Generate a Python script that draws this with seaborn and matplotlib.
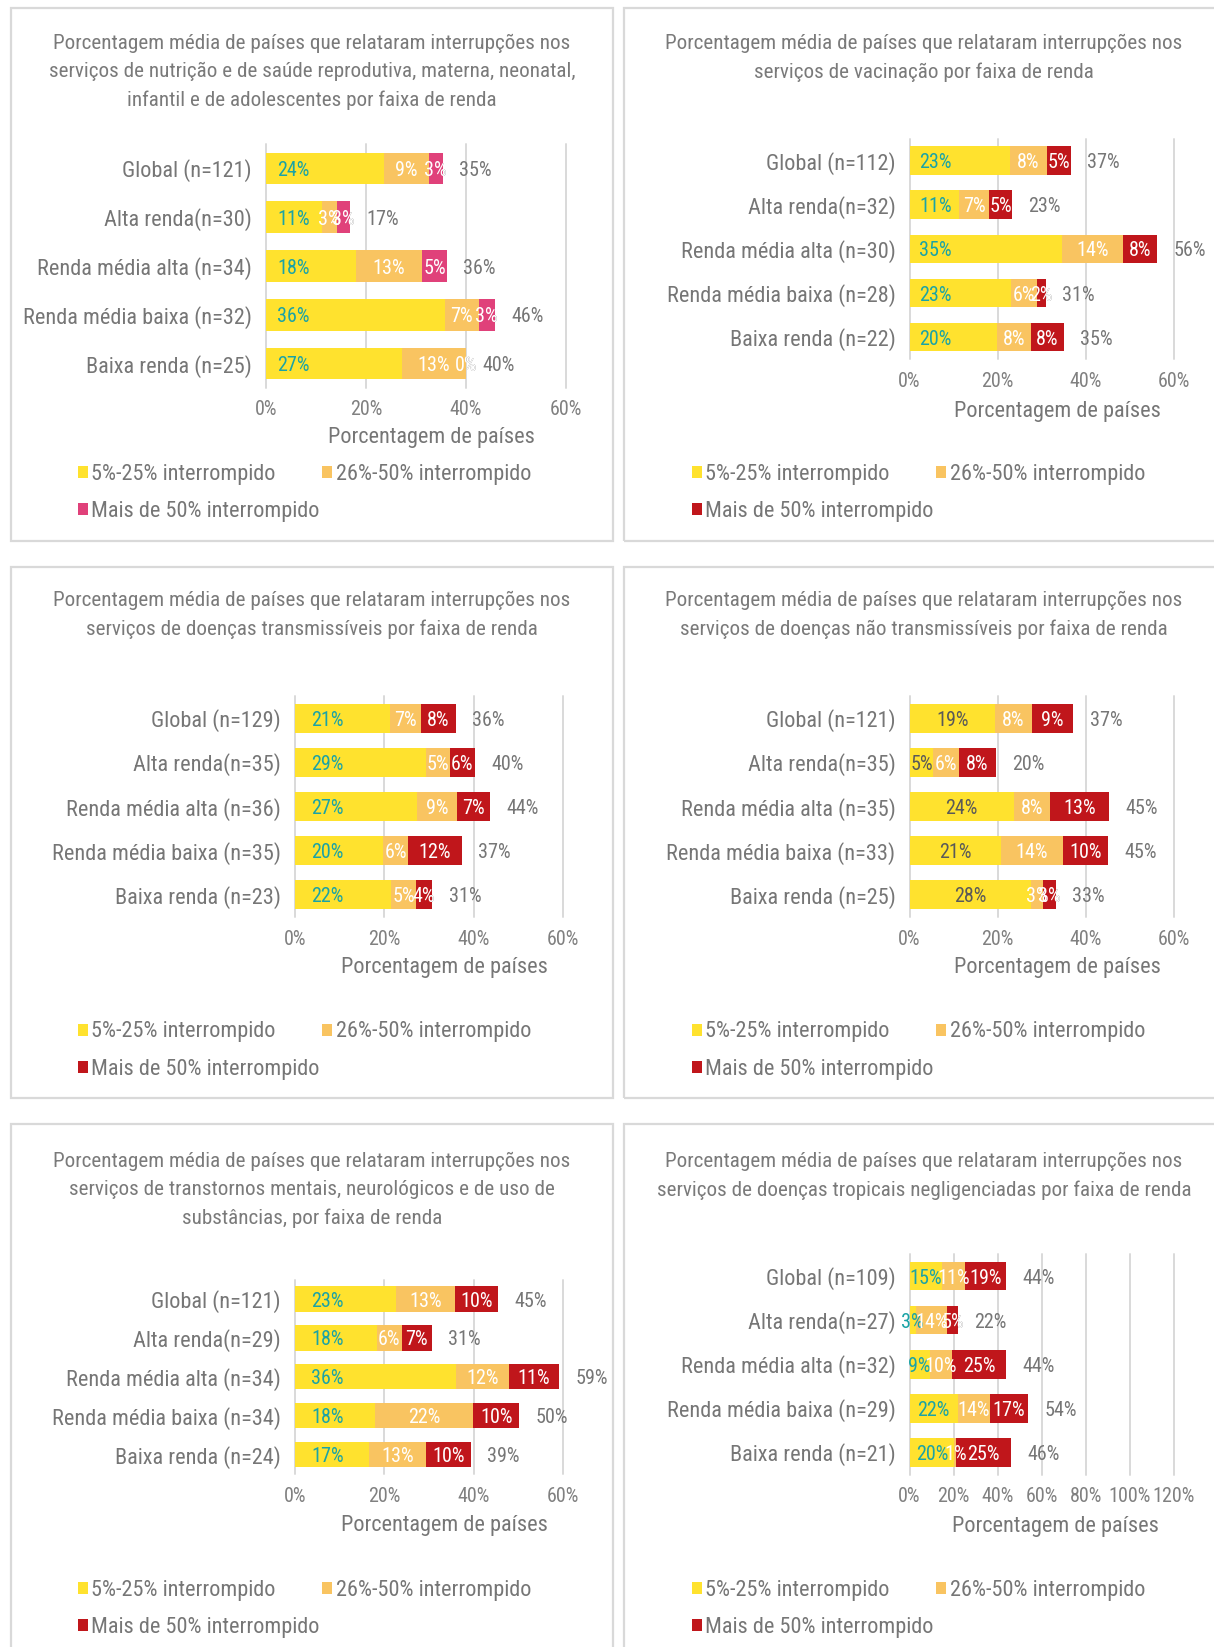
import numpy as np
import pandas as pd
import matplotlib
matplotlib.use("Agg")
import matplotlib.pyplot as plt
from matplotlib import font_manager as fm
from matplotlib.patches import Patch, Rectangle
import seaborn as sns

# ---------------------------------------------------------------- data
legend_labels = ["5%-25% interrompido", "26%-50% interrompido", "Mais de 50% interrompido"]
x_label = "Porcentagem de países"

rmnca_title = ("Porcentagem média de países que relataram interrupções nos\n"
               "serviços de nutrição e de saúde reprodutiva, materna, neonatal,\n"
               "infantil e de adolescentes por faixa de renda")
rmnca_cats = ["Global (n=121)", "Alta renda(n=30)", "Renda média alta (n=34)",
              "Renda média baixa (n=32)", "Baixa renda (n=25)"]
rmnca_low = [23.6, 11.1, 18.0, 35.8, 27.1]
rmnca_mid = [8.9, 3.1, 13.2, 6.7, 12.9]
rmnca_high = [2.9, 2.6, 5.0, 3.2, 0.0]

vac_title = ("Porcentagem média de países que relataram interrupções nos\n"
             "serviços de vacinação por faixa de renda")
vac_cats = ["Global (n=112)", "Alta renda(n=32)", "Renda média alta (n=30)",
            "Renda média baixa (n=28)", "Baixa renda (n=22)"]
vac_low = [22.8, 11.3, 34.6, 23.0, 19.9]
vac_mid = [8.4, 6.8, 13.8, 6.0, 7.6]
vac_high = [5.4, 5.1, 7.7, 1.9, 7.5]

ct_title = ("Porcentagem média de países que relataram interrupções nos\n"
            "serviços de doenças transmissíveis por faixa de renda")
ct_cats = ["Global (n=129)", "Alta renda(n=35)", "Renda média alta (n=36)",
           "Renda média baixa (n=35)", "Baixa renda (n=23)"]
ct_low = [21.3, 29.4, 27.4, 19.8, 21.6]
ct_mid = [7.0, 5.2, 8.9, 5.6, 5.4]
ct_high = [7.7, 5.6, 7.3, 11.9, 3.7]

dnt_title = ("Porcentagem média de países que relataram interrupções nos\n"
             "serviços de doenças não transmissíveis por faixa de renda")
dnt_cats = ["Global (n=121)", "Alta renda(n=35)", "Renda média alta (n=35)",
            "Renda média baixa (n=33)", "Baixa renda (n=25)"]
dnt_low = [19.4, 5.4, 23.6, 20.7, 27.6]
dnt_mid = [8.3, 5.8, 8.3, 14.1, 2.6]
dnt_high = [9.4, 8.4, 13.3, 10.3, 3.0]

mental_title = ("Porcentagem média de países que relataram interrupções nos\n"
                "serviços de transtornos mentais, neurológicos e de uso de\n"
                "substâncias, por faixa de renda")
mental_cats = ["Global (n=121)", "Alta renda(n=29)", "Renda média alta (n=34)",
               "Renda média baixa (n=34)", "Baixa renda (n=24)"]
mental_low = [22.6, 18.3, 36.0, 17.9, 16.6]
mental_mid = [13.2, 5.6, 11.8, 22.0, 12.8]
mental_high = [9.6, 6.7, 11.3, 10.3, 9.9]

ntd_title = ("Porcentagem média de países que relataram interrupções nos\n"
             "serviços de doenças tropicais negligenciadas por faixa de renda")
ntd_cats = ["Global (n=109)", "Alta renda(n=27)", "Renda média alta (n=32)",
            "Renda média baixa (n=29)", "Baixa renda (n=21)"]
ntd_low = [14.6, 2.9, 9.1, 21.9, 20.4]
ntd_mid = [10.7, 14.3, 10.0, 14.4, 0.8]
ntd_high = [18.6, 4.6, 24.8, 17.3, 24.9]

# ---------------------------------------------------------------- style
W, H, DPI = 1214, 1647, 100
sns.set_theme(style="white")


def pick_font(candidates):
    for name in candidates:
        try:
            fm.findfont(fm.FontProperties(family=name), fallback_to_default=False)
            return name
        except ValueError:
            continue
    return "DejaVu Sans"


FONT = pick_font(["Liberation Sans Narrow", "Roboto Condensed",
                  "DejaVu Sans Condensed", "Roboto", "Liberation Sans"])
plt.rcParams["font.family"] = [FONT, "DejaVu Sans"]

GREY = "#767676"
TITLE_GREY = "#7a7a7a"
TICK_GREY = "#808080"
GRID = "#D9D9D9"
YELLOW = "#FFE22E"
ORANGE = "#F9C461"
PINK = "#E0417A"
RED = "#C0161B"
TEAL = "#1AA3A6"
DARK = "#595959"
BAR_W = 0.65
LEG_FS = 16
VAL_FS = 14.5
TICK_FS = 14.5

PX = 72.0 / DPI  # points per pixel

# panel layout in pixels: frame box, axes box, title centre, legend anchor
panels = [
    dict(title=rmnca_title, cats=rmnca_cats, low=rmnca_low, mid=rmnca_mid, high=rmnca_high,
         high_color=PINK, xmax=60, first="base", pad=11.5, first_color=TEAL,
         frame=(10.5, 8.4, 613, 541), axes=(266, 144, 566, 388),
         title_xy=(312, 46), xlab_x=431, xlab_dy=50, tick_dy=22, legend_xy=(78, 464)),
    dict(title=vac_title, cats=vac_cats, low=vac_low, mid=vac_mid, high=vac_high,
         high_color=RED, xmax=60, first="base", pad=9.5, first_color=TEAL,
         frame=(624, 8.4, 1226, 541), axes=(909.5, 138.6, 1174, 359.2),
         title_xy=(924, 46), xlab_x=1057.6, xlab_dy=52, tick_dy=22.8, legend_xy=(692, 464)),
    dict(title=ct_title, cats=ct_cats, low=ct_low, mid=ct_mid, high=ct_high,
         high_color=RED, xmax=60, first="base", pad=16, first_color=TEAL,
         frame=(10.5, 567, 613, 1097.5), axes=(295, 696.3, 563, 916.8),
         title_xy=(312, 603), xlab_x=444, xlab_dy=51, tick_dy=23, legend_xy=(78, 1021.5)),
    dict(title=dnt_title, cats=dnt_cats, low=dnt_low, mid=dnt_mid, high=dnt_high,
         high_color=RED, xmax=60, first="center", pad=0, first_color=DARK,
         frame=(624, 567, 1226, 1097.5), axes=(909.5, 696.3, 1174, 916.8),
         title_xy=(924, 603), xlab_x=1057.6, xlab_dy=51, tick_dy=23, legend_xy=(692, 1021.5)),
    dict(title=mental_title, cats=mental_cats, low=mental_low, mid=mental_mid, high=mental_high,
         high_color=RED, xmax=60, first="base", pad=16, first_color=TEAL,
         frame=(10.5, 1124, 613, 1660), axes=(295, 1279.6, 563, 1474),
         title_xy=(312, 1164), xlab_x=444, xlab_dy=52, tick_dy=22.5, legend_xy=(78, 1580)),
    dict(title=ntd_title, cats=ntd_cats, low=ntd_low, mid=ntd_mid, high=ntd_high,
         high_color=RED, xmax=120, first="center", pad=0, first_color=TEAL,
         frame=(624, 1124, 1226, 1660), axes=(909.5, 1254, 1174, 1474.5),
         title_xy=(924, 1164), xlab_x=1055.5, xlab_dy=52, tick_dy=22.5, legend_xy=(692, 1580)),
]

fig = plt.figure(figsize=(W / DPI, H / DPI), dpi=DPI)
fig.patch.set_facecolor("white")
renderer = fig.canvas.get_renderer()


def fx(px):
    return px / W


def fy(py):
    return 1 - py / H


for p in panels:
    # panel frame
    x0, y0, x1, y1 = p["frame"]
    fig.add_artist(Rectangle((fx(x0), fy(y1)), fx(x1 - x0), (y1 - y0) / H,
                             transform=fig.transFigure, fill=False,
                             edgecolor=GRID, linewidth=1.6, zorder=0))

    # title
    tx, ty = p["title_xy"]
    fig.text(fx(tx), fy(ty - 12), p["title"], ha="center", va="top",
             fontsize=15.2, color=TITLE_GREY, linespacing=1.6)

    ax0, ay0, ax1, ay1 = p["axes"]
    ax = fig.add_axes([fx(ax0), fy(ay1), fx(ax1 - ax0), (ay1 - ay0) / H])

    df = pd.DataFrame({"cat": p["cats"], "low": p["low"], "mid": p["mid"], "high": p["high"]})
    df["upto_mid"] = df["low"] + df["mid"]
    df["total"] = df["upto_mid"] + df["high"]

    # stacked look: draw cumulative bars from the longest to the shortest
    for col, color in [("total", p["high_color"]), ("upto_mid", ORANGE), ("low", YELLOW)]:
        sns.barplot(data=df, x=col, y="cat", orient="h", color=color, saturation=1,
                    width=BAR_W, errorbar=None, linewidth=0, ax=ax)

    ax.set_xlim(0, p["xmax"])
    ticks = np.arange(0, p["xmax"] + 1, 20)
    ax.set_xticks(ticks)
    ax.set_xticklabels([f"{t}%" for t in ticks])
    ax.set_ylabel("")
    ax.set_xlabel(x_label, fontsize=16, color=GREY)
    ax.xaxis.set_label_coords((p["xlab_x"] - ax0) / (ax1 - ax0),
                              -p["xlab_dy"] / (ay1 - ay0))
    ax.xaxis.label.set_va("center")
    for s in ax.spines.values():
        s.set_visible(False)
    ax.tick_params(axis="both", length=0)
    ax.tick_params(axis="x", labelsize=TICK_FS, labelcolor=TICK_GREY,
                   pad=p["tick_dy"] * PX - 7.2)
    ax.tick_params(axis="y", labelsize=16, labelcolor=GREY, pad=14 * PX)
    ax.set_axisbelow(True)
    ax.grid(axis="x", color=GRID, linewidth=1.4)
    ax.grid(axis="y", visible=False)
    for gl in ax.get_xgridlines():
        gl.set_clip_on(False)

    # value labels
    for i, row in df.iterrows():
        vals = [row["low"], row["mid"], row["high"]]
        lefts = [0, row["low"], row["upto_mid"]]
        clip = Rectangle((0, i - BAR_W / 2), row["total"], BAR_W, transform=ax.transData)
        bar_end_px = ax.transData.transform((row["total"], i))[0]
        first_txt = f"{vals[0]:.0f}%"
        if p["first"] == "base":
            ax.annotate(first_txt, (0, i), xytext=(p["pad"] * PX, 0), textcoords="offset points",
                        ha="left", va="center_baseline", fontsize=VAL_FS,
                        color=p["first_color"], zorder=3)
        else:
            ax.text(vals[0] / 2, i, first_txt, ha="center", va="center_baseline",
                    fontsize=VAL_FS, color=p["first_color"], zorder=3)
        for k in (1, 2):
            cx = lefts[k] + vals[k] / 2
            txt = f"{vals[k]:.0f}%"
            t = ax.text(cx, i, txt, ha="center", va="center_baseline", fontsize=VAL_FS,
                        color="white", zorder=3)
            t.set_clip_path(clip)
            # where the label runs past the bar end, the overflow shows in grey
            if t.get_window_extent(renderer).x1 > bar_end_px + 1:
                ax.text(cx, i, txt, ha="center", va="center_baseline", fontsize=VAL_FS,
                        color=GREY, zorder=0.8)
        ax.annotate(f"{row['total']:.0f}%", (row["total"], i), xytext=(16.5 * PX, 0),
                    textcoords="offset points", ha="left", va="center_baseline",
                    fontsize=VAL_FS, color=GREY, zorder=3)

    # legend: two entries on the first row, the third one below
    handles = [Patch(facecolor=c, edgecolor="none") for c in (YELLOW, ORANGE, p["high_color"])]
    lx, ly = p["legend_xy"]
    common = dict(loc="upper left", frameon=False, fontsize=LEG_FS, labelcolor=GREY,
                  handlelength=0.45, handleheight=0.45, handletextpad=0.15,
                  borderpad=0, borderaxespad=0)
    fig.legend(handles[:2], legend_labels[:2], ncol=2, columnspacing=2.1,
               bbox_to_anchor=(fx(lx), fy(ly)), **common)
    fig.legend(handles[2:], legend_labels[2:], ncol=1,
               bbox_to_anchor=(fx(lx), fy(ly + 37)), **common)

fig.savefig("out.png", dpi=DPI, facecolor="white")
